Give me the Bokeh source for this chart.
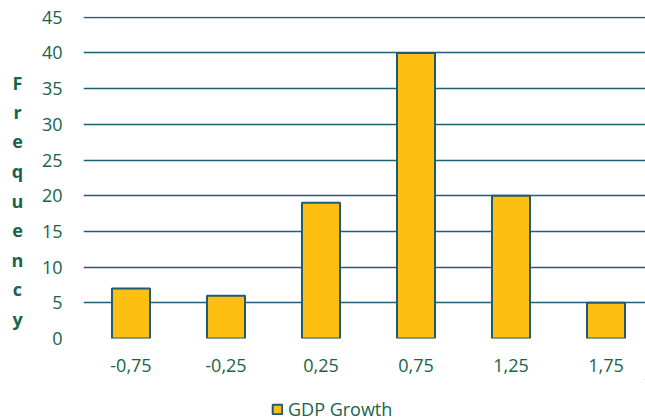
from bokeh.plotting import figure
from bokeh.layouts import row, column
from bokeh.models import (Range1d, FixedTicker, Legend, LegendItem, ColumnDataSource)
from bokeh.core.properties import value
from bokeh.embed import file_html
from bokeh.resources import INLINE

categories = ["-0,75", "-0,25", "0,25", "0,75", "1,25", "1,75"]
frequency = [7, 6, 19, 40, 20, 5]
series_name = "GDP Growth"
y_title = "Frequency"
y_ticks = list(range(0, 50, 5))

TEXT = "#17644a"
GRID = "#215e78"
FILL = "#fdbf11"
EDGE = "#1f5b73"
FONT = "Open Sans"
W, H = 645, 419
TITLE_W = 36
LEG_H = 40
MAIN_H = H - LEG_H
FRAME_TOP = 16
FRAME_BOTTOM = 338

# ---- narrow panel holding the stacked vertical axis title ----
# (its frame is aligned with the main chart's frame inside the row)
letters = list(y_title)
line_step = 29.5
first_baseline = 82
tsrc = ColumnDataSource(dict(
    x=[TITLE_W / 2 - 1] * len(letters),
    y=[FRAME_BOTTOM - (first_baseline + i * line_step) for i in range(len(letters))],
    t=letters))
ft = figure(width=TITLE_W, height=MAIN_H, output_backend="svg", toolbar_location=None,
            x_range=Range1d(0, TITLE_W), y_range=Range1d(0, FRAME_BOTTOM - FRAME_TOP),
            x_axis_location=None, y_axis_location=None,
            min_border=0, outline_line_color=None)
ft.grid.visible = False
ft.text(x="x", y="y", text="t", source=tsrc, text_align="center",
        text_baseline="alphabetic", text_color=TEXT, text_font=value(FONT),
        text_font_style="bold", text_font_size="18px")

# ---- main chart ----
idx = list(range(len(categories)))
src = ColumnDataSource(dict(x=idx, top=frequency, label=categories))

p = figure(width=W - TITLE_W, height=MAIN_H, output_backend="svg", toolbar_location=None,
           x_range=Range1d(-0.5, 5.416), y_range=Range1d(0, 45.1),
           min_border_left=83 - TITLE_W, min_border_right=0, min_border_top=FRAME_TOP,
           min_border_bottom=MAIN_H - FRAME_BOTTOM)
p.outline_line_color = None

r = p.vbar(x="x", top="top", width=0.4, source=src, fill_color=FILL,
           line_color=EDGE, line_width=2)

p.xgrid.grid_line_color = None
p.ygrid.grid_line_color = GRID
p.ygrid.grid_line_width = 1.6
p.ygrid.ticker = FixedTicker(ticks=y_ticks)

for ax in (p.xaxis, p.yaxis):
    ax.axis_line_color = None
    ax.major_tick_line_color = None
    ax.minor_tick_line_color = None
    ax.major_tick_out = 0
    ax.major_tick_in = 0
    ax.minor_tick_out = 0
    ax.minor_tick_in = 0
    ax.major_label_text_color = TEXT
    ax.major_label_text_font = FONT
    ax.major_label_text_font_size = "18px"

p.yaxis.ticker = FixedTicker(ticks=y_ticks)
p.yaxis.major_label_standoff = 21

p.xaxis.ticker = FixedTicker(ticks=idx)
p.xaxis.major_label_overrides = {i: c for i, c in zip(idx, categories)}
p.xaxis.major_label_standoff = 20

# ---- legend strip (its swatch renderer sits outside the visible ranges) ----
fl = figure(width=W, height=LEG_H, output_backend="svg", toolbar_location=None,
            x_range=Range1d(0, 1), y_range=Range1d(0, 1),
            x_axis_location=None, y_axis_location=None,
            min_border=0, outline_line_color=None)
fl.grid.visible = False
swatch = ColumnDataSource(dict(x=[50], bottom=[5], top=[6]))
lr = fl.vbar(x="x", bottom="bottom", top="top", width=0.4, source=swatch,
             fill_color=FILL, line_color=EDGE, line_width=2)
legend = Legend(items=[LegendItem(label=series_name, renderers=[lr])],
                location=(271, -2), orientation="horizontal",
                padding=0, margin=0, spacing=0, label_standoff=5,
                glyph_width=12, glyph_height=12,
                label_text_color=TEXT, label_text_font=FONT, label_text_font_size="18px",
                border_line_color=None, background_fill_alpha=0)
fl.add_layout(legend, "center")

layout = column(row(ft, p, spacing=0), fl, spacing=0)
open("out.html", "w").write(file_html(layout, INLINE))
